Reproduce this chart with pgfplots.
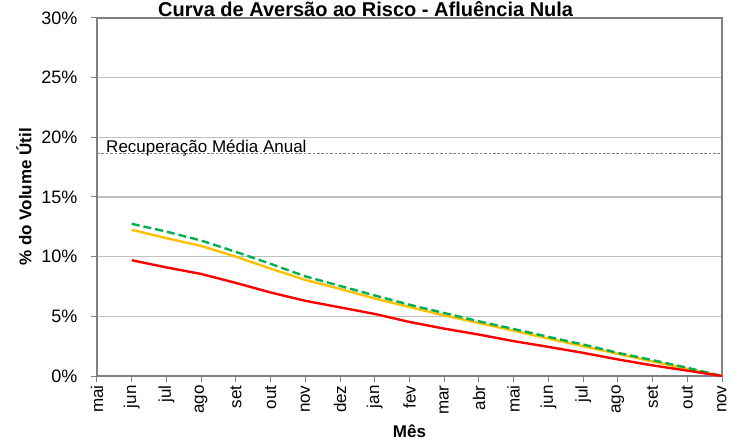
\documentclass[border=0pt]{standalone}
\usepackage{fontspec}
\setmainfont{Liberation Sans}
\usepackage{pgfplots}
\pgfplotsset{compat=1.18}
\definecolor{cred}{RGB}{255,0,0}
\definecolor{corange}{RGB}{255,192,0}
\definecolor{cgreen}{RGB}{0,176,80}
\definecolor{axgray}{RGB}{128,128,128}
\definecolor{gridgray}{RGB}{192,192,192}
\pgfplotstableread{
x green orange red
1 12.75 12.25 9.70
2 12.10 11.55 9.10
3 11.35 10.90 8.55
4 10.40 10.00 7.80
5 9.40 9.00 7.00
6 8.35 8.05 6.30
7 7.55 7.30 5.75
8 6.75 6.50 5.20
9 5.97 5.78 4.53
10 5.28 5.08 3.97
11 4.58 4.44 3.47
12 3.94 3.80 2.92
13 3.28 3.14 2.44
14 2.64 2.50 1.94
15 1.94 1.86 1.39
16 1.33 1.22 0.89
17 0.69 0.60 0.45
18 0.00 0.00 0.00
}\datatable
\begin{document}
\begin{tikzpicture}
\begin{axis}[
  at={(0,0)}, anchor=south west,
  scale only axis, width=625bp, height=358bp,
  xmin=0, xmax=18, ymin=0, ymax=30,
  xtick={0,...,18},
  xticklabels={mai,jun,jul,ago,set,out,nov,dez,jan,fev,mar,abr,mai,jun,jul,ago,set,out,nov},
  ytick={0,5,10,15,20,25,30},
  yticklabels={0\%,5\%,10\%,15\%,20\%,25\%,30\%},
  xtick pos=lower, ytick pos=left,
  tick align=outside,
  major tick length=6bp,
  ymajorgrids,
  grid style={gridgray, line width=1.2bp},
  axis line style={axgray, line width=1.2bp},
  major tick style={axgray, line width=1bp},
  x tick label style={rotate=90, anchor=east, font=\fontsize{17bp}{20bp}\selectfont},
  y tick label style={xshift=-10bp, font=\fontsize{18bp}{20bp}\selectfont},
  title={Curva de Aversão ao Risco - Afluência Nula},
  title style={at={(axis description cs:0.0976,1.0056)}, anchor=base west, inner sep=0pt, yshift=-6bp, font=\bfseries\fontsize{20bp}{22bp}\selectfont},
  xlabel={\textbf{Mês}},
  ylabel={\textbf{\% do Volume Útil}},
  xlabel style={at={(axis description cs:0.5,-0.1536)}, anchor=center, font=\fontsize{17bp}{20bp}\selectfont},
  ylabel style={at={(axis description cs:-0.1168,0.5)}, anchor=center, rotate=0, font=\fontsize{17bp}{20bp}\selectfont},
]
\addplot[axgray, line width=0.9bp, dash pattern=on 2.7bp off 1.7bp] coordinates {(0,18.62) (18,18.62)};
\node[anchor=base west, inner sep=0pt, font=\fontsize{17bp}{20bp}\selectfont] at (axis cs:0.26,18.75) {Recuperação Média Anual};
\addplot[corange, line width=2.4bp] table[x=x, y=orange] {\datatable};
\addplot[cgreen, line width=2.4bp, dash pattern=on 8bp off 4bp] table[x=x, y=green] {\datatable};
\addplot[cred, line width=2.4bp] table[x=x, y=red] {\datatable};
\end{axis}
\pgfresetboundingbox
\path[use as bounding box] (-97bp,-65bp) rectangle (647bp,376bp);
\end{tikzpicture}
\end{document}
